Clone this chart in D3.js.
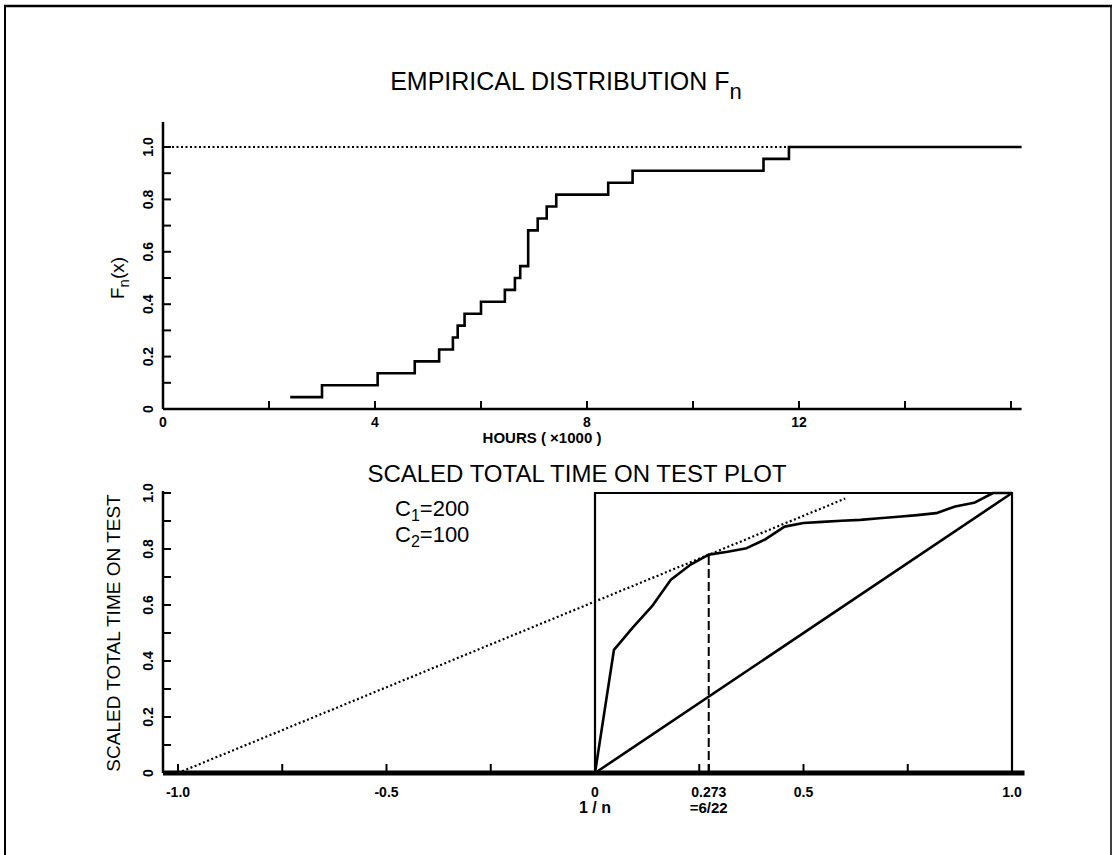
<!DOCTYPE html>
<html><head><meta charset="utf-8">
<script src="https://cdn.jsdelivr.net/npm/d3@7"></script>
<style>
html,body{margin:0;padding:0;background:#fff;}
svg{display:block;}
text{font-family:"Liberation Sans Narrow","Liberation Sans",Arial,sans-serif;fill:#000;}
.tick{font-family:"Liberation Sans",Arial,sans-serif;font-weight:bold;font-size:14px;}
</style></head>
<body>
<svg id="c" width="1116" height="855"></svg>
<script>
// ---------------- DATA ----------------
// Empirical distribution: failure times (x1000 hours) where F_n steps up, and level after the step
const stepTimes  = [2.40, 3.00, 4.05, 4.75, 5.21, 5.47, 5.56, 5.69, 6.00, 6.45, 6.64, 6.74, 6.89, 7.07, 7.24, 7.42, 8.40, 8.86, 11.33, 11.81];
const stepLevels = [1/22, 2/22, 3/22, 4/22, 5/22, 6/22, 7/22, 8/22, 9/22, 10/22, 11/22, 12/22, 15/22, 16/22, 17/22, 18/22, 19/22, 20/22, 21/22, 1];
const stepEnd = 16.2;
const topXTicks = [0, 4, 8, 12];
const topXMinor = [2, 6, 10, 14, 16];
const topYTicks = [0, 0.2, 0.4, 0.6, 0.8, 1.0];
const topYLabels = ["0", "0.2", "0.4", "0.6", "0.8", "1.0"];

// Scaled TTT plot: i/n and scaled total time on test
const tttU   = [0, 1/22, 2/22, 3/22, 4/22, 5/22, 6/22, 7/22, 8/22, 9/22, 10/22, 11/22, 12/22, 13/22, 14/22, 15/22, 16/22, 17/22, 18/22, 19/22, 20/22, 21/22, 1];
const tttPhi = [0, 0.44, 0.52, 0.595, 0.69, 0.742, 0.78, 0.79, 0.803, 0.835, 0.88, 0.893, 0.897, 0.901, 0.904, 0.91, 0.915, 0.921, 0.928, 0.952, 0.965, 1.0, 1.0];
const tangentFrom = [-1.0, 0];
const tangentTo = [0.6, 0.98];
const optU = 6/22, optPhi = 0.78;
const botXTicks = [-1.0, -0.5, 0, 0.273, 0.5, 1.0];
const botXLabels = ["-1.0", "-0.5", "0", "0.273", "0.5", "1.0"];
const botXMinor = [-0.75, -0.25, 0.25, 0.75];
const botYTicks = [0, 0.2, 0.4, 0.6, 0.8, 1.0];
const botYLabels = ["0", "0.2", "0.4", "0.6", "0.8", "1.0"];

// ---------------- DRAW ----------------
const svg = d3.select("#c");
// frame
svg.append("line").attr("x1",4).attr("y1",6).attr("x2",1112).attr("y2",6).attr("stroke","#000").attr("stroke-width",2.5);
svg.append("line").attr("x1",5).attr("y1",5).attr("x2",5).attr("y2",855).attr("stroke","#000").attr("stroke-width",2);
svg.append("line").attr("x1",1111).attr("y1",5).attr("x2",1111).attr("y2",855).attr("stroke","#000").attr("stroke-width",1.5);

// ===== top chart =====
const x1 = d3.scaleLinear().domain([0,12]).range([163,799]);
const y1 = d3.scaleLinear().domain([0,1]).range([409,147]);
const g1 = svg.append("g");
g1.append("text").attr("x",566).attr("y",90).attr("text-anchor","middle").attr("font-size",25)
  .text("EMPIRICAL  DISTRIBUTION   F").append("tspan").attr("font-size",22).attr("dy",9).text("n");

// axes
g1.append("line").attr("x1",x1(0)).attr("x2",x1(stepEnd)).attr("y1",y1(0)).attr("y2",y1(0)).attr("stroke","#000").attr("stroke-width",2.5);
g1.append("line").attr("x1",x1(0)).attr("x2",x1(0)).attr("y1",y1(0)).attr("y2",y1(1.095)).attr("stroke","#000").attr("stroke-width",2.5);
d3.range(0,11).forEach(i=>{const v=i/10; g1.append("line").attr("x1",x1(0)).attr("x2",x1(0)+8).attr("y1",y1(v)).attr("y2",y1(v)).attr("stroke","#000").attr("stroke-width",2);});
topXTicks.concat(topXMinor).forEach(v=>{g1.append("line").attr("x1",x1(v)).attr("x2",x1(v)).attr("y1",y1(0)).attr("y2",y1(0)-8).attr("stroke","#000").attr("stroke-width",2);});
topYTicks.forEach((v,i)=>{g1.append("text").attr("class","tick").attr("transform",`translate(${x1(0)-10},${y1(v)}) rotate(-90)`).attr("text-anchor","middle").text(topYLabels[i]);});
topXTicks.forEach(v=>{g1.append("text").attr("class","tick").attr("x",x1(v)).attr("y",y1(0)+18).attr("text-anchor","middle").text(v);});
g1.append("text").attr("x",542).attr("y",y1(0)+34).attr("text-anchor","middle").attr("font-size",15).attr("font-weight","bold").text("HOURS ( \u00d71000 )");
g1.append("text").attr("transform",`translate(${124},${y1(0.5)}) rotate(-90)`).attr("text-anchor","middle").attr("font-size",19)
  .text("F").append("tspan").attr("font-size",15).attr("dy",5).text("n").append("tspan").attr("font-size",19).attr("dy",-5).text("(x)");

// dotted 1.0 line
g1.append("line").attr("x1",x1(0)).attr("x2",x1(stepTimes[stepTimes.length-1])).attr("y1",y1(1)).attr("y2",y1(1))
  .attr("stroke","#000").attr("stroke-width",2.2).attr("stroke-dasharray","2,2.5");
// step line
const stepPts = [];
stepTimes.forEach((t,i)=>{ if(i>0) stepPts.push([t, stepLevels[i-1]]); stepPts.push([t, stepLevels[i]]); });
stepPts.push([stepEnd, 1]);
g1.append("path").attr("d", d3.line().x(d=>x1(d[0])).y(d=>y1(d[1]))(stepPts)).attr("fill","none").attr("stroke","#000").attr("stroke-width",2.6);

// ===== bottom chart =====
const x2 = d3.scaleLinear().domain([-1,1]).range([178,1012]);
const y2 = d3.scaleLinear().domain([0,1]).range([773,493]);
const g2 = svg.append("g");
g2.append("text").attr("x",577).attr("y",482).attr("text-anchor","middle").attr("font-size",24).text("SCALED  TOTAL  TIME  ON  TEST  PLOT");
// axes
g2.append("line").attr("x1",163).attr("x2",x2(1.03)).attr("y1",y2(0)).attr("y2",y2(0)).attr("stroke","#000").attr("stroke-width",5);
g2.append("line").attr("x1",163).attr("x2",163).attr("y1",y2(0)).attr("y2",y2(1)-2).attr("stroke","#000").attr("stroke-width",2.5);
d3.range(0,11).forEach(i=>{const v=i/10; g2.append("line").attr("x1",163).attr("x2",171).attr("y1",y2(v)).attr("y2",y2(v)).attr("stroke","#000").attr("stroke-width",2);});
botXTicks.concat(botXMinor).forEach(v=>{g2.append("line").attr("x1",x2(v)).attr("x2",x2(v)).attr("y1",y2(0)).attr("y2",y2(0)-9).attr("stroke","#000").attr("stroke-width",2);});
botYTicks.forEach((v,i)=>{g2.append("text").attr("class","tick").attr("transform",`translate(${153},${y2(v)}) rotate(-90)`).attr("text-anchor","middle").text(botYLabels[i]);});
botXTicks.forEach((v,i)=>{g2.append("text").attr("class","tick").attr("x",x2(v)).attr("y",y2(0)+24).attr("text-anchor","middle").text(botXLabels[i]);});
g2.append("text").attr("x",x2(0)).attr("y",y2(0)+40).attr("text-anchor","middle").attr("font-size",16).attr("font-weight","bold").text("1 / n");
g2.append("text").attr("x",x2(optU)).attr("y",y2(0)+40).attr("text-anchor","middle").attr("font-size",15).attr("font-weight","bold").text("=6/22");
g2.append("text").attr("transform",`translate(${120},${y2(0.5)}) rotate(-90)`).attr("text-anchor","middle").attr("font-size",19).text("SCALED TOTAL TIME ON TEST");
// C labels
const cl = g2.append("text").attr("x",395).attr("y",516).attr("font-size",22);
cl.append("tspan").text("C"); cl.append("tspan").attr("font-size",16).attr("dy",5).text("1"); cl.append("tspan").attr("dy",-5).text("=200");
const cl2 = g2.append("text").attr("x",395).attr("y",542).attr("font-size",22);
cl2.append("tspan").text("C"); cl2.append("tspan").attr("font-size",16).attr("dy",5).text("2"); cl2.append("tspan").attr("dy",-5).text("=100");

// unit box
g2.append("path").attr("d", d3.line().x(d=>x2(d[0])).y(d=>y2(d[1]))([[0,0],[0,1],[1,1],[1,0]])).attr("fill","none").attr("stroke","#000").attr("stroke-width",2.2);
// diagonal
g2.append("line").attr("x1",x2(0)).attr("y1",y2(0)).attr("x2",x2(1)).attr("y2",y2(1)).attr("stroke","#000").attr("stroke-width",2.6);
// tangent dotted
g2.append("line").attr("x1",x2(tangentFrom[0])).attr("y1",y2(tangentFrom[1])).attr("x2",x2(tangentTo[0])).attr("y2",y2(tangentTo[1]))
  .attr("stroke","#000").attr("stroke-width",2.2).attr("stroke-dasharray","2,2.5");
// dashed vertical
g2.append("line").attr("x1",x2(optU)).attr("y1",y2(0)).attr("x2",x2(optU)).attr("y2",y2(optPhi)).attr("stroke","#000").attr("stroke-width",2).attr("stroke-dasharray","9,4");
// TTT curve
g2.append("path").attr("d", d3.line().x((d,i)=>x2(tttU[i])).y((d,i)=>y2(tttPhi[i]))(tttU)).attr("fill","none").attr("stroke","#000").attr("stroke-width",2.6).attr("stroke-linejoin","round");
</script>
</body></html>
